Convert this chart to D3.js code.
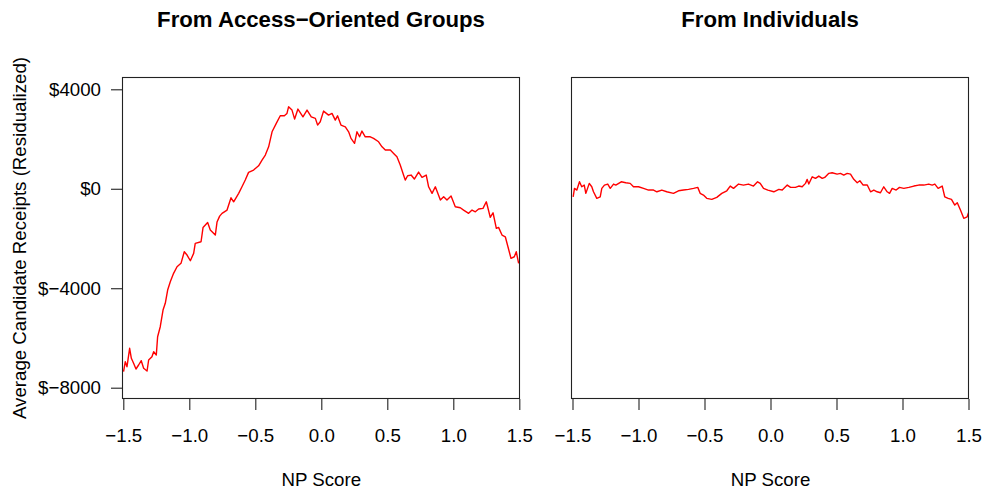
<!DOCTYPE html>
<html>
<head>
<meta charset="utf-8">
<script src="https://cdn.jsdelivr.net/npm/d3@7"></script>
<style>
  html, body { margin: 0; padding: 0; background: #fff; }
  svg { display: block; }
  text { font-family: "Liberation Sans", Arial, sans-serif; fill: #000; }
</style>
</head>
<body>
<svg id="chart" width="982" height="489"></svg>
<script>
// ---- Data ----
const panelTitles = ["From Access\u2212Oriented Groups", "From Individuals"];
const xTicks = [-1.5, -1.0, -0.5, 0.0, 0.5, 1.0, 1.5];
const yTicks = [4000, 0, -4000, -8000];
const xLabel = "NP Score";
const yLabel = "Average Candidate Receipts (Residualized)";

// Left panel: access-oriented groups [NP score, receipts]
const groupsSeries = [
  [-1.498,-7357],[-1.485,-6955],[-1.472,-7156],[-1.452,-6416],[-1.439,-6818],[-1.422,-7019],
  [-1.404,-7248],[-1.384,-7087],[-1.364,-6914],[-1.346,-7220],[-1.320,-7328],[-1.308,-6886],
  [-1.283,-6754],[-1.270,-6553],[-1.250,-6685],[-1.240,-5950],[-1.220,-5548],[-1.199,-4876],
  [-1.182,-4607],[-1.164,-4072],[-1.144,-3739],[-1.119,-3401],[-1.093,-3136],[-1.063,-2999],
  [-1.038,-2533],[-1.017,-2665],[-0.992,-2894],[-0.967,-2597],[-0.955,-2195],[-0.911,-2131],
  [-0.896,-1560],[-0.861,-1359],[-0.841,-1660],[-0.803,-1861],[-0.790,-1339],[-0.770,-1100],
  [-0.752,-989],[-0.714,-856],[-0.684,-362],[-0.664,-523],[-0.626,-185],[-0.601,80],
  [-0.576,350],[-0.551,659],[-0.513,752],[-0.475,925],[-0.449,1154],[-0.424,1355],
  [-0.399,1688],[-0.373,2291],[-0.341,2629],[-0.311,2935],[-0.280,2935],[-0.260,3031],
  [-0.248,3296],[-0.222,3164],[-0.202,2802],[-0.177,3204],[-0.139,2894],[-0.108,3164],
  [-0.076,2894],[-0.045,2830],[-0.028,2561],[-0.008,2693],[0.017,3124],[0.055,2963],
  [0.081,3031],[0.106,2762],[0.123,2935],[0.149,2561],[0.182,2492],[0.207,2291],
  [0.225,2026],[0.252,1825],[0.270,2291],[0.290,2090],[0.308,2320],[0.333,2090],
  [0.371,2090],[0.396,2026],[0.434,1889],[0.460,1688],[0.485,1556],[0.523,1556],
  [0.548,1423],[0.573,1286],[0.598,953],[0.623,551],[0.636,350],[0.654,523],
  [0.680,551],[0.705,390],[0.737,671],[0.763,458],[0.795,551],[0.813,80],
  [0.839,-185],[0.864,80],[0.902,-454],[0.927,-322],[0.952,-454],[0.983,-293],
  [1.015,-724],[1.053,-764],[1.078,-856],[1.116,-989],[1.142,-856],[1.167,-925],
  [1.192,-816],[1.225,-788],[1.250,-523],[1.260,-724],[1.280,-1150],[1.301,-965],
  [1.326,-1592],[1.343,-1552],[1.369,-1861],[1.394,-1930],[1.414,-2332],[1.437,-2798],
  [1.462,-2734],[1.477,-2533],[1.495,-2999]
];

// Right panel: individuals [NP score, receipts]
const individualsSeries = [
  [-1.495,-322],[-1.485,16],[-1.467,-52],[-1.447,281],[-1.430,80],[-1.411,149],
  [-1.399,-185],[-1.373,217],[-1.354,80],[-1.341,-121],[-1.316,-386],[-1.290,-322],
  [-1.278,16],[-1.258,149],[-1.233,189],[-1.214,16],[-1.189,189],[-1.172,149],
  [-1.131,281],[-1.096,241],[-1.063,217],[-1.038,80],[-1.000,80],[-0.962,16],
  [-0.924,-52],[-0.886,-52],[-0.861,-121],[-0.823,-52],[-0.786,-121],[-0.735,-185],
  [-0.697,-80],[-0.659,-52],[-0.621,-24],[-0.583,16],[-0.551,56],[-0.533,-185],
  [-0.508,-253],[-0.483,-386],[-0.445,-426],[-0.407,-346],[-0.369,-185],[-0.331,-80],
  [-0.305,109],[-0.280,16],[-0.242,189],[-0.205,149],[-0.167,189],[-0.129,109],
  [-0.098,281],[-0.078,217],[-0.053,16],[-0.020,-52],[0.025,-121],[0.063,-24],
  [0.089,-52],[0.127,149],[0.152,56],[0.189,56],[0.214,109],[0.240,80],
  [0.265,217],[0.278,378],[0.290,189],[0.316,482],[0.341,418],[0.366,511],
  [0.392,418],[0.411,458],[0.442,619],[0.467,643],[0.505,591],[0.530,619],
  [0.555,551],[0.581,619],[0.606,591],[0.631,378],[0.657,241],[0.677,322],
  [0.702,149],[0.733,149],[0.758,-121],[0.783,-52],[0.808,-121],[0.833,-161],
  [0.858,80],[0.884,-121],[0.902,-185],[0.922,16],[0.952,-52],[0.977,56],
  [1.010,16],[1.048,56],[1.086,109],[1.123,149],[1.161,149],[1.199,189],
  [1.225,149],[1.245,189],[1.270,16],[1.301,109],[1.320,-322],[1.346,-386],
  [1.371,-426],[1.396,-655],[1.415,-563],[1.439,-856],[1.464,-1190],[1.490,-1126],
  [1.500,-965]
];

// ---- Layout ----
const svg = d3.select("#chart");
const fontSize = 18.7;
const boxTop = 77, boxBottom = 399;
const panels = [
  { title: panelTitles[0], data: groupsSeries, boxL: 122, boxR: 520, r0: 123.3, r1: 519.3, yAxis: true },
  { title: panelTitles[1], data: individualsSeries, boxL: 571, boxR: 969, r0: 572.5, r1: 968.5, yAxis: false }
];

const y = d3.scaleLinear().domain([-8000, 4000]).range([387.7, 89.3]);
const fmtX = d => (d < 0 ? "\u2212" : "") + Math.abs(d).toFixed(1);
const fmtY = d => "$" + (d < 0 ? "\u2212" : "") + Math.abs(d);

panels.forEach((p, i) => {
  const x = d3.scaleLinear().domain([-1.5, 1.5]).range([p.r0, p.r1]);
  const g = svg.append("g");

  const cid = "clip" + i;
  svg.append("clipPath").attr("id", cid).append("rect")
    .attr("x", p.boxL).attr("y", boxTop).attr("width", p.boxR - p.boxL).attr("height", boxBottom - boxTop);

  const line = d3.line().x(d => x(d[0])).y(d => y(d[1]));
  g.append("path").datum(p.data)
    .attr("clip-path", `url(#${cid})`)
    .attr("d", line)
    .attr("fill", "none")
    .attr("stroke", "#ff0000")
    .attr("stroke-width", 1.4)
    .attr("stroke-linejoin", "round");

  g.append("rect")
    .attr("x", p.boxL + 0.5).attr("y", boxTop + 0.5)
    .attr("width", p.boxR - p.boxL - 1).attr("height", boxBottom - boxTop - 1)
    .attr("fill", "none").attr("stroke", "#222").attr("stroke-width", 1.1);

  const xa = g.append("g").attr("transform", `translate(0,${boxBottom})`)
    .call(d3.axisBottom(x).tickValues(xTicks).tickFormat(fmtX).tickSize(11).tickPadding(19));
  xa.select(".domain").remove();
  xa.selectAll(".tick line").attr("stroke", "#222").attr("stroke-width", 1.1);
  xa.selectAll(".tick text").attr("font-size", fontSize).attr("font-family", "Liberation Sans, Arial, sans-serif").attr("fill", "#000");

  if (p.yAxis) {
    const ya = g.append("g").attr("transform", `translate(${p.boxL},0)`)
      .call(d3.axisLeft(y).tickValues(yTicks).tickFormat(fmtY).tickSize(11).tickPadding(10));
    ya.select(".domain").remove();
    ya.selectAll(".tick line").attr("stroke", "#222").attr("stroke-width", 1.1);
    ya.selectAll(".tick text").attr("font-size", fontSize).attr("font-family", "Liberation Sans, Arial, sans-serif").attr("fill", "#000");
  }

  g.append("text")
    .attr("x", (p.boxL + p.boxR) / 2).attr("y", 27)
    .attr("text-anchor", "middle")
    .attr("font-size", 22.2).attr("font-weight", "bold")
    .text(p.title);

  g.append("text")
    .attr("x", (p.r0 + p.r1) / 2).attr("y", 486)
    .attr("text-anchor", "middle")
    .attr("font-size", fontSize)
    .text(xLabel);
});

svg.append("text")
  .attr("transform", `translate(25.5,${(boxTop + boxBottom) / 2}) rotate(-90)`)
  .attr("text-anchor", "middle")
  .attr("font-size", fontSize)
  .text(yLabel);
</script>
</body>
</html>
